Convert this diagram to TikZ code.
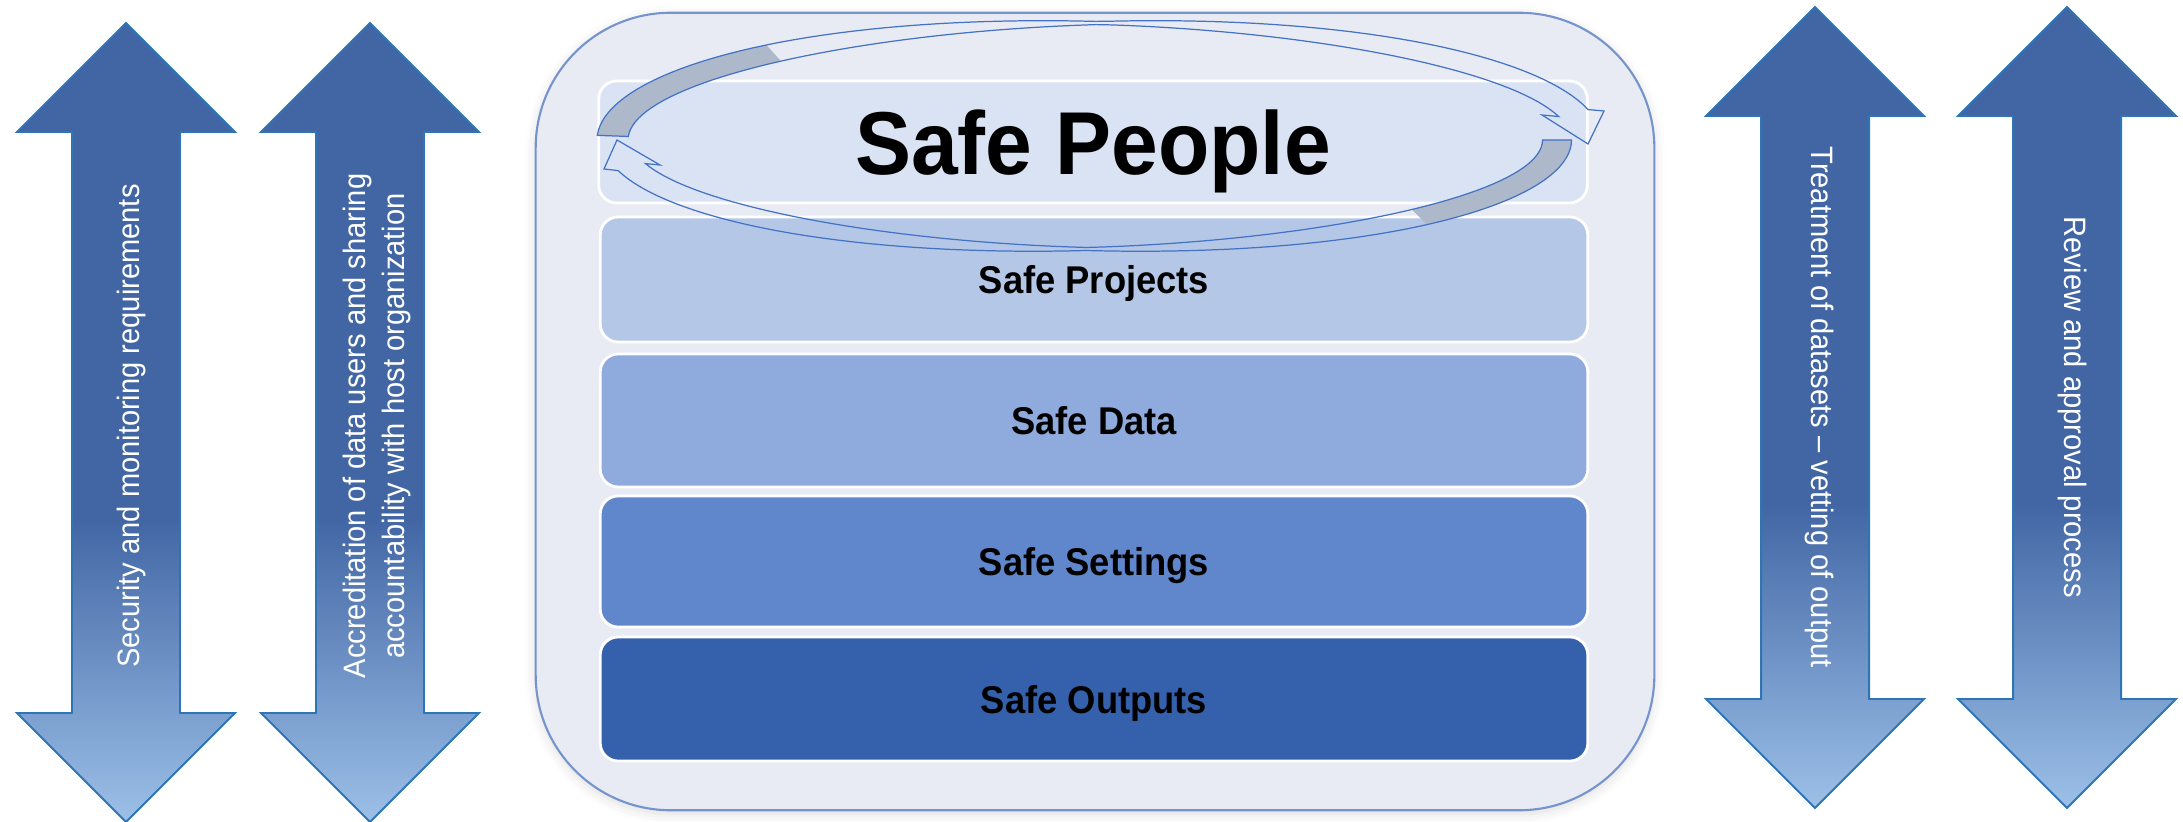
\documentclass[tikz,border=0pt]{standalone}
\usepackage{fontspec}
\setmainfont[FakeStretch=0.94]{Liberation Sans}
\usetikzlibrary{shadows.blur}

\definecolor{arrowdark}{HTML}{4266A4}
\definecolor{arrowlight}{HTML}{9CC0E7}
\definecolor{arrowline}{HTML}{2E75B6}
\definecolor{panelfill}{HTML}{E8EBF4}
\definecolor{panelline}{HTML}{7594CB}
\definecolor{peoplefill}{HTML}{DAE3F3}
\definecolor{projectsfill}{HTML}{B4C7E7}
\definecolor{datafill}{HTML}{8FAADC}
\definecolor{settingsfill}{HTML}{6086CB}
\definecolor{outputsfill}{HTML}{3560AB}
\definecolor{loopline}{HTML}{4472C4}
\definecolor{loopgrey}{HTML}{ADB9CA}

% dark blue at the top, fading to light blue at the bottom tip
\pgfdeclareverticalshading{arrowfade}{100bp}{color(0bp)=(arrowlight); color(25bp)=(arrowlight); color(44bp)=(arrowdark); color(100bp)=(arrowdark)}

\begin{document}
\begin{tikzpicture} [
                % one unit is one pixel of the target, y runs downwards
                x=0.01cm, y=-0.01cm,
                panel/.style = {draw=panelline, fill=panelfill, line width=0.6pt, rounded corners=1.35cm,
                                blur shadow={shadow xshift=0pt, shadow yshift=-1pt, shadow blur radius=3pt, shadow opacity=14}},
                layer/.style = {draw=white, line width=0.8pt, rounded corners=0.18cm, minimum width=9.87cm,
                                text depth=0pt, font=\bfseries\fontsize{11}{13}\selectfont},
                big arrow/.style = {draw=arrowline, line width=0.55pt, shading=arrowfade},
                arrow text/.style = {text=white, align=center, inner sep=0pt, font=\fontsize{8.8}{10.9}\selectfont},
                loop edge/.style = {draw=loopline, line width=0.35pt},
                loop back/.style = {fill=loopgrey}
            ]
            \useasboundingbox (0,0) rectangle (2183,822);
            % The frame and the five layers
            \node[panel, minimum width=11.18cm, minimum height=7.97cm] (frame) at (1095,411.5) {};
            \node[layer, fill=peoplefill, minimum width=9.88cm, minimum height=1.22cm,
                  font=\bfseries\fontsize{25.4}{30}\selectfont] (people) at (1093,142) {Safe People};
            \foreach \name/\y/\h/\col/\label in {
                projects/279.5/1.25/projectsfill/Safe Projects, data/420.5/1.33/datafill/Safe Data,
                settings/561.5/1.31/settingsfill/Safe Settings, outputs/699/1.24/outputsfill/Safe Outputs}
                \node[layer, fill=\col, minimum height=\h cm] (\name) at (1094,\y) {\label};
            % The loop round Safe People: grey start, thin ribbon, open head
            \foreach \cx/\cy/\rx/\ry/\spread/\ta/\tg/\tb/\ox/\oy/\tx/\ty/\ix/\iy in {
                1099.5/140/487/117/14/182/228/346.7/1604/111/1588/144/1542/115,
                1087/140/470/109/13/0/45/165.6/604/169/617/140/660/165}
            {
                \begin{scope}[declare function={
                        rimx(\t,\s) = \cx+(\rx+\s*(1.5+\spread*abs(cos(\t))))*cos(\t);
                        rimy(\t,\s) = \cy+(\ry+\s*(1.5+\spread*abs(cos(\t))))*sin(\t);}]
                    \fill[loop back] plot[domain=\ta:\tg, samples=30] ({rimx(\x,1)},{rimy(\x,1)})
                        -- plot[domain=\tg:\ta, samples=30] ({rimx(\x,-1)},{rimy(\x,-1)}) -- cycle;
                    \path[loop edge] plot[domain=\ta:\tb, samples=80] ({rimx(\x,1)},{rimy(\x,1)})
                        -- (\ox,\oy) -- (\tx,\ty) -- (\ix,\iy)
                        -- plot[domain=\tb:\ta, samples=80] ({rimx(\x,-1)},{rimy(\x,-1)}) -- cycle;
                \end{scope}
            }
            % The four double arrows at the sides
            \foreach \cx/\ty/\by in {126/23/822, 370/23/822, 1815/7/808, 2067/7/808}
                \path[big arrow] (\cx,\ty) -- ++(109,109) -- ++(-55,0) -- (\cx+54,\by-109) -- ++(55,0)
                    -- (\cx,\by) -- ++(-109,-109) -- ++(55,0) -- (\cx-54,\ty+109) -- ++(-55,0) -- cycle;
            \node[arrow text, rotate=90] (security) at (131,426) {Security and monitoring requirements};
            \node[arrow text, rotate=90] (accreditation) at (377,426)
                {Accreditation of data users and sharing\\accountability with host organization};
            \node[arrow text, rotate=-90] (treatment) at (1819,407) {Treatment of datasets -- vetting of output};
            \node[arrow text, rotate=-90] (review) at (2072,407) {Review and approval process};
        \end{tikzpicture}
\end{document}
